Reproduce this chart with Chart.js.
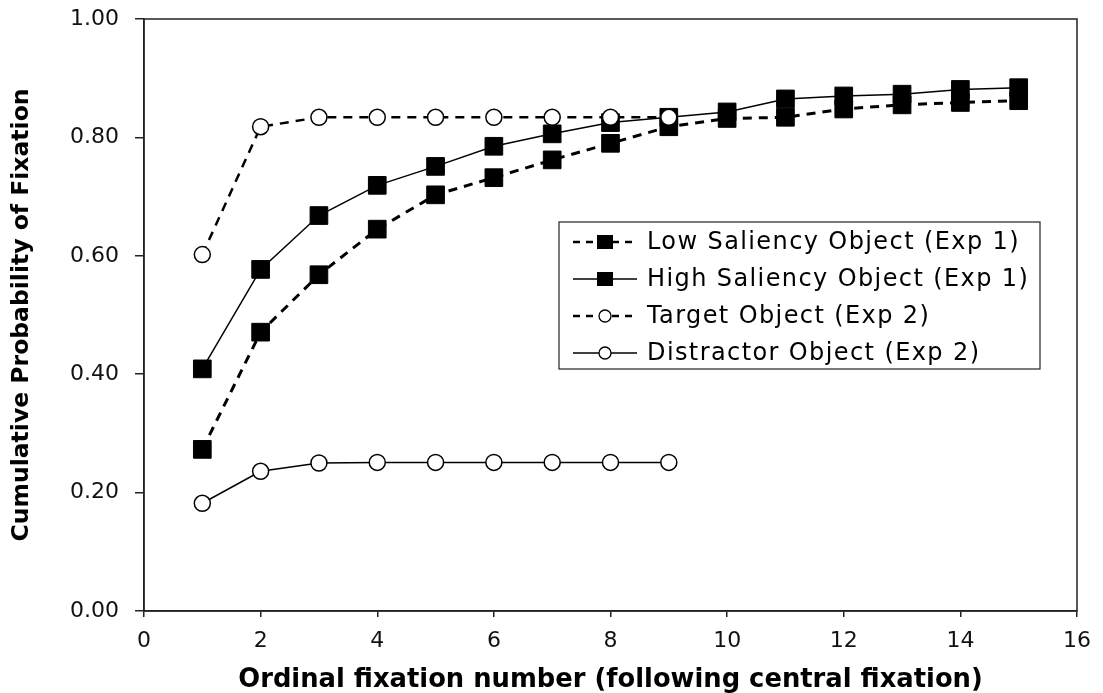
<!DOCTYPE html>
<html>
<head>
<meta charset="utf-8">
<script src="https://cdn.jsdelivr.net/npm/chart.js@4"></script>
<style>
  html, body { margin: 0; padding: 0; background: #fff; }
  #wrap { width: 1103px; height: 693px; position: relative; }
</style>
</head>
<body>
<div id="wrap"><canvas id="fixation-chart"></canvas></div>
<script>
// values
const fixationNumbers = [1, 2, 3, 4, 5, 6, 7, 8, 9, 10, 11, 12, 13, 14, 15];
const lowSaliency = [0.273, 0.471, 0.568, 0.645, 0.703, 0.732, 0.762, 0.790, 0.818, 0.832, 0.834, 0.848, 0.855, 0.859, 0.862];
const highSaliency = [0.409, 0.577, 0.668, 0.719, 0.751, 0.785, 0.806, 0.825, 0.834, 0.843, 0.865, 0.870, 0.873, 0.881, 0.884];
const targetObject = [0.602, 0.818, 0.834, 0.834, 0.834, 0.834, 0.834, 0.834, 0.834];
const distractorObject = [0.182, 0.236, 0.250, 0.251, 0.251, 0.251, 0.251, 0.251, 0.251];

const seriesNames = [
  'Low Saliency Object (Exp 1)',
  'High Saliency Object (Exp 1)',
  'Target Object (Exp 2)',
  'Distractor Object (Exp 2)'
];
const xTitle = 'Ordinal fixation number (following central fixation)';
const yTitle = 'Cumulative Probability of Fixation';

const toPoints = values => values.map((v, i) => ({ x: fixationNumbers[i], y: v }));

const squareStyle = { pointStyle: 'rect', pointRadius: 12.5, pointBackgroundColor: '#000', pointBorderColor: '#000', pointBorderWidth: 1 };
const circleStyle = { pointStyle: 'circle', pointRadius: 8, pointBackgroundColor: '#fff', pointBorderColor: '#000', pointBorderWidth: 1.5 };

// box around the plot plus the legend drawn inside the plot
const frameAndLegend = {
  id: 'frameAndLegend',
  afterDraw(chart) {
    const { ctx, chartArea } = chart;
    ctx.save();
    ctx.strokeStyle = '#222';
    ctx.lineWidth = 1.5;
    ctx.strokeRect(chartArea.left, chartArea.top, chartArea.right - chartArea.left, chartArea.bottom - chartArea.top);

    const boxX = chartArea.left + 415;
    const boxY = chartArea.top + 203;
    const boxW = 481;
    const boxH = 147;
    ctx.fillStyle = '#fff';
    ctx.fillRect(boxX, boxY, boxW, boxH);
    ctx.lineWidth = 1.2;
    ctx.strokeRect(boxX, boxY, boxW, boxH);

    ctx.font = '24px "DejaVu Sans"';
    ctx.letterSpacing = '1.4px';
    ctx.textBaseline = 'middle';
    chart.data.datasets.forEach((ds, i) => {
      const rowY = boxY + 20 + i * 37;
      const x0 = boxX + 14;
      const x1 = boxX + 78;
      const mx = boxX + 46;
      ctx.strokeStyle = '#000';
      ctx.lineWidth = ds.borderDash ? 2.5 : 1.3;
      ctx.setLineDash(ds.borderDash ? [7, 6] : []);
      ctx.beginPath();
      ctx.moveTo(x0, rowY);
      ctx.lineTo(x1, rowY);
      ctx.stroke();
      ctx.setLineDash([]);
      if (ds.pointStyle === 'rect') {
        ctx.fillStyle = '#000';
        ctx.fillRect(mx - 8, rowY - 7, 16, 14);
      } else {
        ctx.fillStyle = '#fff';
        ctx.lineWidth = 1.3;
        ctx.beginPath();
        ctx.arc(mx, rowY, 6, 0, Math.PI * 2);
        ctx.fill();
        ctx.stroke();
      }
      ctx.fillStyle = '#000';
      ctx.fillText(ds.label, boxX + 88, rowY + 1);
    });
    ctx.restore();
  }
};

const ctx = document.getElementById('fixation-chart').getContext('2d');
new Chart(ctx, {
  type: 'line',
  data: {
    datasets: [
      { label: seriesNames[0], data: toPoints(lowSaliency), borderColor: '#000', borderWidth: 3, borderDash: [9, 7], order: 3, ...squareStyle },
      { label: seriesNames[1], data: toPoints(highSaliency), borderColor: '#000', borderWidth: 1.5, order: 2, ...squareStyle },
      { label: seriesNames[2], data: toPoints(targetObject), borderColor: '#000', borderWidth: 2.5, borderDash: [9, 7], order: 1, ...circleStyle },
      { label: seriesNames[3], data: toPoints(distractorObject), borderColor: '#000', borderWidth: 1.5, order: 4, ...circleStyle }
    ]
  },
  options: {
    responsive: true,
    maintainAspectRatio: false,
    animation: false,
    layout: { padding: { left: 0, top: 19, right: 26, bottom: 0 } },
    plugins: {
      legend: { display: false },
      tooltip: { enabled: false }
    },
    scales: {
      x: {
        type: 'linear',
        min: 0,
        max: 16,
        ticks: { stepSize: 2, color: '#111', padding: 11, font: { family: 'DejaVu Sans', size: 22 } },
        grid: { drawOnChartArea: false, tickLength: 6, color: '#222', lineWidth: 1.5 },
        border: { color: '#222', width: 1.5 },
        title: {
          display: true,
          text: xTitle,
          color: '#000',
          padding: { top: 0, bottom: 0 },
          font: { family: 'DejaVu Sans', size: 25.8, weight: 'bold', lineHeight: 1 }
        },
        afterFit(scale) {
          scale.height = 82;
          scale.paddingLeft = 0;
          scale.paddingRight = 0;
        }
      },
      y: {
        min: 0,
        max: 1,
        ticks: {
          stepSize: 0.2,
          color: '#111',
          padding: 16,
          font: { family: 'DejaVu Sans', size: 22 },
          callback: v => v.toFixed(2)
        },
        grid: { drawOnChartArea: false, tickLength: 9, color: '#222', lineWidth: 1.5 },
        border: { color: '#222', width: 1.5 },
        title: {
          display: true,
          text: yTitle,
          color: '#000',
          padding: { top: 10, bottom: 0 },
          font: { family: 'DejaVu Sans', size: 23.5, weight: 'bold', lineHeight: 1 }
        },
        afterFit(scale) {
          scale.width = 144;
          scale.paddingTop = 0;
          scale.paddingBottom = 0;
        }
      }
    }
  },
  plugins: [frameAndLegend]
});
</script>
</body>
</html>
